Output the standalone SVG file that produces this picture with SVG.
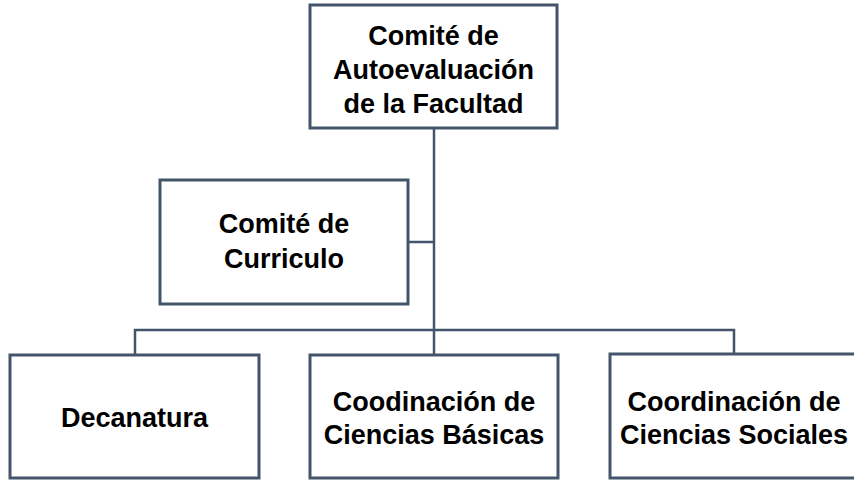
<svg xmlns="http://www.w3.org/2000/svg" width="854" height="481" viewBox="0 0 854 481">
<style>
.box{fill:#ffffff;stroke:#44546a;stroke-width:3}
.conn{fill:none;stroke:#44546a;stroke-width:2.5}
.t{font-family:"Liberation Sans",Arial,sans-serif;font-weight:bold;font-size:27px;fill:#000000;text-anchor:middle}
</style>
<rect width="854" height="481" fill="#ffffff"/>
<g id="connectors">
<path class="conn" d="M434 128 V355"/>
<path class="conn" d="M408 242 H434"/>
<path class="conn" d="M135 355 V330 H734 V354"/>
</g>
<g id="node-autoevaluacion">
<rect class="box" x="310" y="5" width="247" height="123"/>
<text class="t" x="433.5" y="45">Comité de</text>
<text class="t" x="433.5" y="79">Autoevaluación</text>
<text class="t" x="433.5" y="113">de la Facultad</text>
</g>
<g id="node-curriculo">
<rect class="box" x="160" y="180" width="248" height="124"/>
<text class="t" x="284" y="233">Comité de</text>
<text class="t" x="284" y="268">Curriculo</text>
</g>
<g id="node-decanatura">
<rect class="box" x="10" y="355" width="249" height="123"/>
<text class="t" x="134.5" y="427">Decanatura</text>
</g>
<g id="node-basicas">
<rect class="box" x="310" y="355" width="248" height="123"/>
<text class="t" x="434" y="411">Coodinación de</text>
<text class="t" x="434" y="444">Ciencias Básicas</text>
</g>
<g id="node-sociales">
<rect class="box" x="610" y="354" width="249" height="124"/>
<text class="t" x="734" y="411">Coordinación de</text>
<text class="t" x="734" y="444">Ciencias Sociales</text>
</g>
</svg>
